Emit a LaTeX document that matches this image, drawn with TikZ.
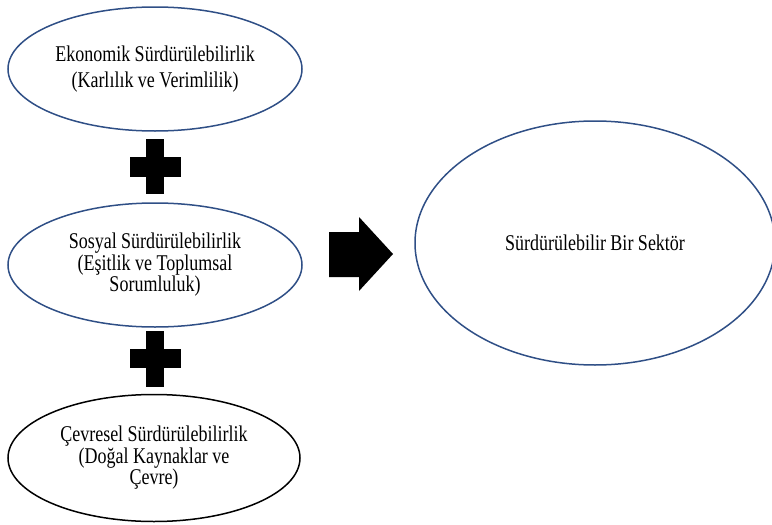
\documentclass[tikz,border=0pt]{standalone}
\usepackage{fontspec}
\setmainfont{Liberation Serif}[FakeStretch=0.8]
\usepackage{tikz}
\usetikzlibrary{shapes.geometric}
\definecolor{pillarBlue}{HTML}{2F4F86}

\begin{document}
\begin{tikzpicture}[x=1pt, y=-1pt,
    pillar/.style={ellipse, draw=pillarBlue, line width=1.5pt, inner sep=0pt,
        minimum width=294pt, minimum height=124pt, align=center,
        font=\fontsize{22.5}{19.5}\selectfont}]
            \useasboundingbox (0,0) rectangle (772,525);
            \node[pillar] (eko) at (155,69) {Ekonomik Sürdürülebilirlik\\[6.5pt](Karlılık ve Verimlilik)};
            \node[pillar] (sos) at (155,265) {Sosyal Sürdürülebilirlik\\(Eşitlik ve Toplumsal\\Sorumluluk)};
            \node[pillar, draw=black, minimum width=292pt, minimum height=127pt] (cev) at (154,458) {Çevresel Sürdürülebilirlik\\(Doğal Kaynaklar ve\\Çevre)};
            \node[pillar, minimum width=360pt, minimum height=244pt] (sektor) at (595,243) {Sürdürülebilir Bir Sektör};
            % plus signs
            \fill (146,139) rectangle (164,194);
            \fill (130,157) rectangle (181,177);
            \fill (146,331) rectangle (164,387);
            \fill (130,349) rectangle (181,368);
            % arrow
            \fill (329,232) -- (359,232) -- (359,217) -- (393,254) -- (359,291) -- (359,277) -- (329,277) -- cycle;
        \end{tikzpicture}
\end{document}
